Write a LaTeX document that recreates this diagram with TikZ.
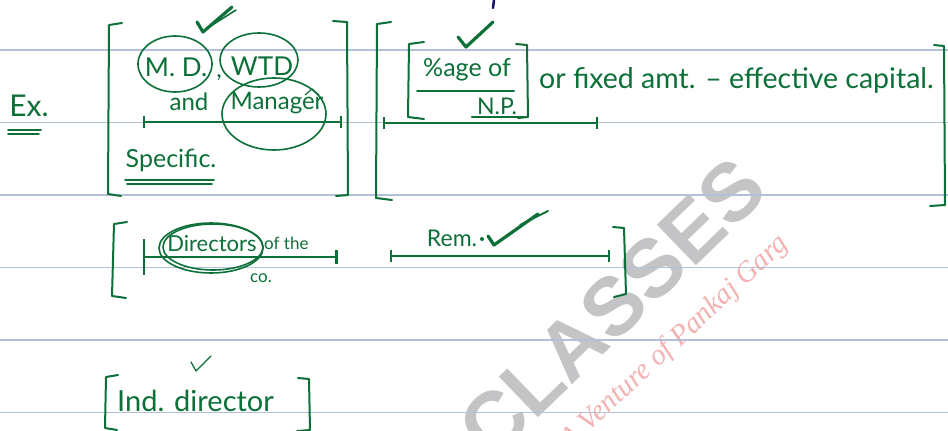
\documentclass[tikz,border=0pt]{standalone}
\usepackage{fontspec}
\setmainfont{Lato}
\newfontfamily\wmfont{Liberation Sans}
\newfontfamily\pinkfont{Liberation Serif}
\usetikzlibrary{arrows.meta}
\definecolor{ink}{RGB}{12,112,56}
\definecolor{rulecol}{RGB}{178,193,216}
\definecolor{wmgray}{RGB}{196,196,198}
\definecolor{wmpink}{RGB}{242,178,178}
\definecolor{navyink}{RGB}{20,20,110}
\newcommand\myfs[1]{\fontsize{#1}{#1}\selectfont}
\tikzset{
  txt/.style={text=ink, inner sep=0pt},
  brk/.style={draw=ink, line width=2pt, line cap=round, line join=round},
  ring/.style={draw=ink, line width=1.6pt},
  inkline/.style={draw=ink, line width=1.6pt, line cap=round},
  tickmark/.style={draw=ink, line width=3.2pt, line cap=round, line join=round},
  barline/.style={draw=ink, line width=2pt, {Bar[width=12pt,line width=2pt]}-{Bar[width=12pt,line width=2pt]}},
  ruled/.style={draw=rulecol, line width=1.3pt}
}
\begin{document}
\begin{tikzpicture}[x=1pt,y=-1pt]
\useasboundingbox (0,0) rectangle (948,431);
\clip (0,0) rectangle (948,431);
\fill[white] (0,0) rectangle (948,431);
% watermark
\node[rotate=44, text=wmgray, font=\wmfont\bfseries\myfs{82}] (wm) at (612,308) {CLASSES};
\node[rotate=43, anchor=base east, text=wmpink, font=\pinkfont\itshape\myfs{29}] (wm2) at (792,243) {A Venture of Pankaj Garg};
% ruled lines
\foreach \yy in {50,122.5,195,267.5,340,412.5} \draw[ruled] (0,\yy) -- (948,\yy);
% navy tick
\draw[navyink, line width=2.5pt, line cap=round] (494,0) -- (493,8);
% Ex.
\node[txt, font=\myfs{30}] (ex) at (29,106) {Ex.};
\draw[inkline] (8,130) -- (41,130);
\draw[inkline] (8,134) -- (39,134);
% group 1
\draw[brk] (122,23) -- (109,25) -- (108,194) -- (121,196);
\draw[brk] (333,21) -- (347,22) -- (348,195) -- (336,196);
\draw[tickmark] (197,22) -- (203,32) -- (232,7);
\draw[ink, line width=1.6pt, line cap=round] (206,29) -- (236,10);
\node[txt, font=\myfs{26}] (md) at (176,67) {M. D.};
\draw[ring] (175,64) ellipse [x radius=37, y radius=28];
\node[txt, font=\myfs{24}] (comma) at (219,78) {,};
\node[txt, font=\myfs{26}] (wtd) at (262,66) {WTD};
\draw[ring] (259,60) ellipse [x radius=39, y radius=27];
\node[txt, font=\myfs{24}] (and) at (189,102) {and};
\node[txt, font=\myfs{24}] (mgr) at (277,103) {Manager};
\draw[ring] (274,114) ellipse [x radius=52, y radius=36];
\draw[ink, line width=1.2pt] (305,95) -- (312,89) -- (319,95);
\coordinate (b1a) at (143,122);
\coordinate (b1b) at (342,122);
\draw[barline] (b1a) -- (b1b);
\node[txt, font=\myfs{25}] (spec) at (171,160) {Specific.};
\draw[inkline] (125,180) -- (214,180);
\draw[inkline] (127,184) -- (212,184);
% group 2
\draw[brk] (391,22) -- (377,24) -- (376,198) -- (392,200);
\draw[brk] (934,45) -- (944,46) -- (945,205) -- (930,206);
\draw[brk] (424,42) -- (409,44) -- (408,117) -- (424,119);
\draw[brk] (516,44) -- (527,45) -- (528,117) -- (518,118);
\draw[tickmark] (458,37) -- (466,47) -- (493,22);
\node[txt, font=\myfs{25}] (pct) at (467,70) {\%age of};
\draw[ink, line width=2pt, line cap=round] (417,91) -- (514,91);
\node[txt, font=\myfs{23}] (np) at (497,106) {N.P.};
\draw[ink, line width=2.5pt, line cap=round] (472,117) -- (524,117);
\node[txt, font=\myfs{28.5}, anchor=base west] (fixed) at (539,88) {or fixed amt. -- effective capital.};
\coordinate (b2a) at (383,123);
\coordinate (b2b) at (598,123);
\draw[barline] (b2a) -- (b2b);
% row 2
\draw[brk] (127,222) -- (114,224) -- (112,296) -- (126,298);
\draw[brk] (613,227) -- (624,228) -- (626,294) -- (614,297);
\coordinate (b3a) at (143,257);
\coordinate (b3b) at (338,257);
\draw[draw=ink, line width=2pt, {Bar[width=36pt,line width=2pt]}-{Bar[width=14pt,line width=3pt]}] (b3a) -- (b3b);
\draw[ring] (211,248) ellipse [x radius=52, y radius=25];
\draw[ring] (213,247) ellipse [x radius=50, y radius=23];
\node[txt, font=\myfs{22}] (dir) at (212,244) {Directors};
\node[txt, font=\myfs{17}, anchor=west] (ofthe) at (264,243) {of the};
\node[txt, font=\myfs{17}] (co) at (261,278) {co.};
\node[txt, font=\myfs{23}] (rem) at (452,238) {Rem.};
\fill[ink] (482,239) circle [radius=2];
\draw[tickmark] (488,236) -- (494,245) -- (538,214);
\draw[ink, line width=1.8pt, line cap=round] (520,225) -- (548,211);
\coordinate (b4a) at (390,256);
\coordinate (b4b) at (610,256);
\draw[barline] (b4a) -- (b4b);
% row 3
\draw[brk] (118,375) -- (106,377) -- (105,428) -- (117,430);
\draw[brk] (298,378) -- (309,379) -- (310,430) -- (297,431);
\node[txt, font=\myfs{29}, anchor=west] (ind) at (117,401) {Ind. director};
\draw[ink, line width=1.3pt, line cap=round, line join=round] (191,362) -- (196,371) -- (211,356);
\end{tikzpicture}
\end{document}
